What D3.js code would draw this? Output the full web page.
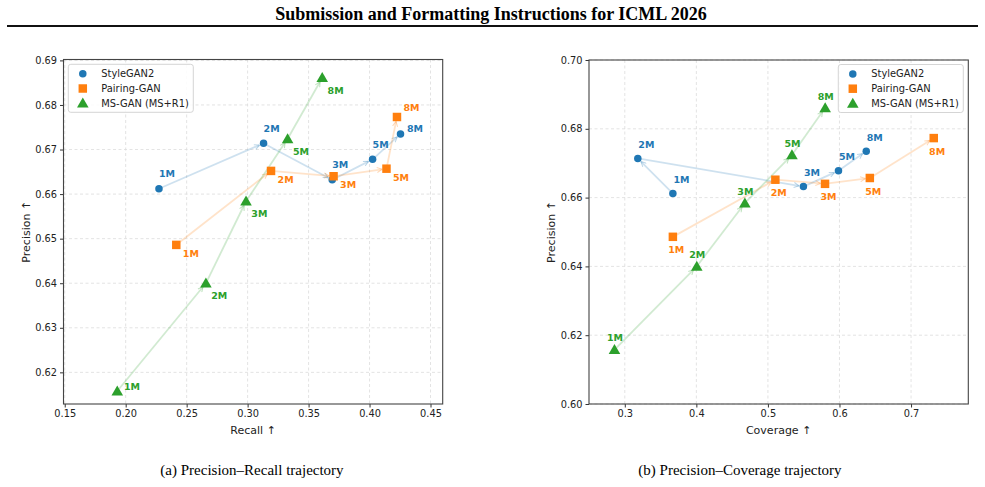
<!DOCTYPE html>
<html>
<head>
<meta charset="utf-8">
<script src="https://cdn.jsdelivr.net/npm/d3@7"></script>
<style>
  body { margin: 0; background: #fff; }
  svg { display: block; }
</style>
</head>
<body>
<svg id="fig" width="985" height="487"></svg>
<script>
// checkpoints (training images seen)
const checkpoints = ["1M", "2M", "3M", "5M", "8M"];

// StyleGAN2
const styleRecall    = [0.2273, 0.3131, 0.3694, 0.4025, 0.4254];
const styleCoverage  = [0.3672, 0.3182, 0.5496, 0.5986, 0.6374];
const stylePrecision = [0.6612, 0.6714, 0.6632, 0.6678, 0.6735];

// Pairing-GAN
const pairRecall    = [0.2415, 0.3192, 0.3705, 0.4139, 0.4225];
const pairCoverage  = [0.3672, 0.5104, 0.5798, 0.6424, 0.7317];
const pairPrecision = [0.6486, 0.6652, 0.6640, 0.6657, 0.6773];

// MS-GAN (MS+R1)
const msRecall    = [0.1931, 0.2658, 0.2987, 0.3328, 0.3612];
const msCoverage  = [0.2856, 0.4006, 0.4678, 0.5336, 0.5800];
const msPrecision = [0.6158, 0.6400, 0.6584, 0.6724, 0.6861];

const seriesNames = ["StyleGAN2", "Pairing-GAN", "MS-GAN (MS+R1)"];

const recallTicks   = [0.15, 0.20, 0.25, 0.30, 0.35, 0.40, 0.45];
const recallPrecTicks = [0.62, 0.63, 0.64, 0.65, 0.66, 0.67, 0.68, 0.69];
const coverageTicks = [0.3, 0.4, 0.5, 0.6, 0.7];
const coverPrecTicks = [0.60, 0.62, 0.64, 0.66, 0.68, 0.70];

const colors = ["#1f77b4", "#ff7f0e", "#2ca02c"];
const shapes = [d3.symbolCircle, d3.symbolSquare, d3.symbolTriangle];
const sizes = [44, 72, 58];

const svg = d3.select("#fig");
const FONT = "'DejaVu Sans', sans-serif";
const SERIF = "'Liberation Serif', 'Times New Roman', serif";

// page header
svg.append("text")
  .attr("x", 491).attr("y", 19.5)
  .attr("text-anchor", "middle")
  .style("font-family", SERIF).style("font-weight", "bold").style("font-size", "18px")
  .text("Submission and Formatting Instructions for ICML 2026");
svg.append("line")
  .attr("x1", 7).attr("x2", 978).attr("y1", 26).attr("y2", 26)
  .attr("stroke", "#111").attr("stroke-width", 2);

// arrow marker defs
const defs = svg.append("defs");
colors.forEach((c, i) => {
  defs.append("marker")
    .attr("id", "arr" + i)
    .attr("viewBox", "0 0 10 10").attr("refX", 9).attr("refY", 5)
    .attr("markerWidth", 3.5).attr("markerHeight", 3.5)
    .attr("markerUnits", "strokeWidth")
    .attr("orient", "auto")
    .append("path")
    .attr("d", "M1,1 L9,5 L1,9")
    .attr("fill", "none").attr("stroke", c).attr("stroke-width", 1.6)
    .attr("stroke-opacity", 0.3);
});

function drawPanel(cfg) {
  const g = svg.append("g");
  const x = d3.scaleLinear().domain(cfg.xDomain).range([cfg.left, cfg.right]);
  const y = d3.scaleLinear().domain(cfg.yDomain).range([cfg.bottom, cfg.top]);

  // grid
  g.append("g").selectAll("line").data(cfg.xTicks).join("line")
    .attr("x1", d => x(d)).attr("x2", d => x(d))
    .attr("y1", cfg.top).attr("y2", cfg.bottom)
    .attr("stroke", "#dcdcdc").attr("stroke-width", 0.8).attr("stroke-dasharray", "3,2.5");
  g.append("g").selectAll("line").data(cfg.yTicks).join("line")
    .attr("x1", cfg.left).attr("x2", cfg.right)
    .attr("y1", d => y(d)).attr("y2", d => y(d))
    .attr("stroke", "#dcdcdc").attr("stroke-width", 0.8).attr("stroke-dasharray", "3,2.5");

  // axes
  const xAxis = g.append("g").attr("transform", `translate(0,${cfg.bottom})`)
    .call(d3.axisBottom(x).tickValues(cfg.xTicks).tickFormat(cfg.xFmt).tickSize(3.5).tickPadding(3));
  const yAxis = g.append("g").attr("transform", `translate(${cfg.left},0)`)
    .call(d3.axisLeft(y).tickValues(cfg.yTicks).tickFormat(cfg.yFmt).tickSize(3.5).tickPadding(3));
  [xAxis, yAxis].forEach(a => {
    a.select(".domain").remove();
    a.selectAll("line").attr("stroke", "#333");
    a.selectAll("text").style("font-family", FONT).style("font-size", "9.8px").attr("fill", "#222");
  });
  g.append("rect")
    .attr("x", cfg.left).attr("y", cfg.top)
    .attr("width", cfg.right - cfg.left).attr("height", cfg.bottom - cfg.top)
    .attr("fill", "none").attr("stroke", "#444").attr("stroke-width", 1.1);

  g.append("text")
    .attr("x", (cfg.left + cfg.right) / 2).attr("y", cfg.bottom + 30)
    .attr("text-anchor", "middle")
    .style("font-family", FONT).style("font-size", "11px").attr("fill", "#222")
    .text(cfg.xLabel);
  g.append("text")
    .attr("transform", `translate(${cfg.left - 34},${(cfg.top + cfg.bottom) / 2}) rotate(-90)`)
    .attr("text-anchor", "middle")
    .style("font-family", FONT).style("font-size", "11px").attr("fill", "#222")
    .text(cfg.yLabel);

  const series = cfg.series.map((s, i) => s.xs.map((v, j) => ({
    x: x(v), y: y(s.ys[j]), label: checkpoints[j], i
  })));

  // trajectory arrows
  series.forEach((pts, i) => {
    d3.pairs(pts).forEach(([a, b]) => {
      const dx = b.x - a.x, dy = b.y - a.y, len = Math.hypot(dx, dy);
      const ux = dx / len, uy = dy / len;
      const s0 = 3, s1 = 4.5;
      g.append("line")
        .attr("x1", a.x + ux * s0).attr("y1", a.y + uy * s0)
        .attr("x2", b.x - ux * s1).attr("y2", b.y - uy * s1)
        .attr("stroke", colors[i]).attr("stroke-width", 1.8)
        .attr("stroke-opacity", 0.22)
        .attr("marker-end", `url(#arr${i})`);
    });
  });

  // markers
  series.forEach((pts, i) => {
    g.append("g").selectAll("path").data(pts).join("path")
      .attr("transform", d => `translate(${d.x},${d.y + (i === 2 ? 1 : 0)})`)
      .attr("d", d3.symbol().type(shapes[i]).size(sizes[i]))
      .attr("fill", colors[i]);
  });

  // checkpoint labels
  series.forEach((pts, i) => {
    const lab = cfg.labels[i];
    g.append("g").selectAll("text").data(pts).join("text")
      .attr("x", (d, j) => d.x + ((lab.over[j] || lab.off)[0]))
      .attr("y", (d, j) => d.y + ((lab.over[j] || lab.off)[1]))
      .attr("dy", "0.35em")
      .attr("text-anchor", lab.anchor)
      .style("font-family", FONT).style("font-weight", "bold").style("font-size", "9.5px")
      .attr("fill", colors[i])
      .text(d => d.label);
  });

  // legend
  const lg = g.append("g").attr("transform", `translate(${cfg.legend[0]},${cfg.legend[1]})`);
  lg.append("rect").attr("width", 125).attr("height", 48).attr("rx", 2.5)
    .attr("fill", "#fff").attr("fill-opacity", 0.85)
    .attr("stroke", "#d0d0d0").attr("stroke-width", 0.9);
  seriesNames.forEach((n, i) => {
    lg.append("path")
      .attr("transform", `translate(14.5,${9.5 + i * 14.7 + (i === 2 ? 1 : 0)})`)
      .attr("d", d3.symbol().type(shapes[i]).size(sizes[i]))
      .attr("fill", colors[i]);
    lg.append("text").attr("x", 33).attr("y", 9.5 + i * 14.7).attr("dy", "0.35em")
      .style("font-family", FONT).style("font-size", "9.9px").attr("fill", "#222")
      .text(n);
  });
}

drawPanel({
  left: 63.5, right: 442.7, top: 59.5, bottom: 404,
  xDomain: [0.149, 0.460], yDomain: [0.6129, 0.6902],
  xTicks: recallTicks, yTicks: recallPrecTicks,
  xFmt: d3.format(".2f"), yFmt: d3.format(".2f"),
  xLabel: "Recall \u2191", yLabel: "Precision \u2191",
  series: [
    { xs: styleRecall, ys: stylePrecision },
    { xs: pairRecall, ys: pairPrecision },
    { xs: msRecall, ys: msPrecision }
  ],
  labels: [
    { anchor: "start", off: [0, -15], over: { 4: [6.5, -5] } },
    { anchor: "start", off: [6.5, 8.7], over: { 4: [6.5, -9.7] } },
    { anchor: "start", off: [5.3, 12.6], over: { 0: [6.7, -4.4] } }
  ],
  legend: [68.3, 64.3]
});

drawPanel({
  left: 589, right: 968.3, top: 60, bottom: 404,
  xDomain: [0.25, 0.78], yDomain: [0.60, 0.70],
  xTicks: coverageTicks, yTicks: coverPrecTicks,
  xFmt: d3.format(".1f"), yFmt: d3.format(".2f"),
  xLabel: "Coverage \u2191", yLabel: "Precision \u2191",
  series: [
    { xs: styleCoverage, ys: stylePrecision },
    { xs: pairCoverage, ys: pairPrecision },
    { xs: msCoverage, ys: msPrecision }
  ],
  labels: [
    { anchor: "start", off: [0.5, -13.6], over: {} },
    { anchor: "middle", off: [3.4, 13.2], over: {} },
    { anchor: "middle", off: [0.5, -11.5], over: {} }
  ],
  legend: [838.3, 64.5]
});

// sub-captions
svg.append("text").attr("x", 252).attr("y", 475).attr("text-anchor", "middle")
  .style("font-family", SERIF).style("font-size", "15px")
  .text("(a) Precision\u2013Recall trajectory");
svg.append("text").attr("x", 740).attr("y", 475).attr("text-anchor", "middle")
  .style("font-family", SERIF).style("font-size", "15px")
  .text("(b) Precision\u2013Coverage trajectory");
</script>
</body>
</html>
